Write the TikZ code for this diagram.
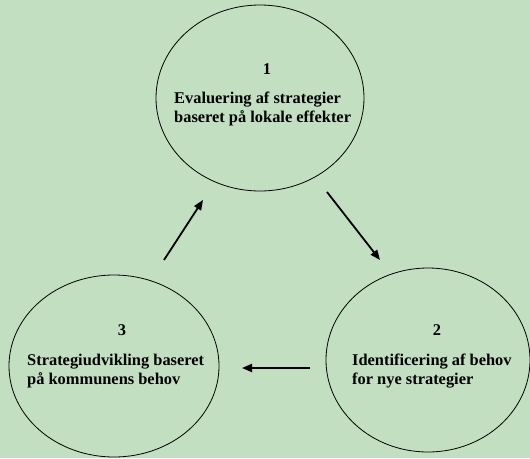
\documentclass[tikz,border=0pt]{standalone}
\usepackage{fontspec}
\setmainfont{Liberation Serif}
\usetikzlibrary{shapes.geometric,arrows.meta}
\definecolor{bg}{RGB}{194,223,194}
\tikzset{
  ell/.style={draw=black, line width=0.8pt, ellipse, inner sep=0pt},
  lbl/.style={inner sep=0pt, font=\fontsize{16.4}{19.5}\selectfont\bfseries, anchor=base west},
  num/.style={inner sep=0pt, font=\fontsize{16.4}{19.5}\selectfont\bfseries, anchor=base},
  arr/.style={line width=1.8pt, -{Triangle[length=10pt,width=8pt]}}
}
\begin{document}
\begin{tikzpicture}[x=1pt,y=-1pt]
\fill[bg] (0,0) rectangle (530,458);
\useasboundingbox (0,0) rectangle (530,458);
\node[ell, minimum width=208pt, minimum height=186pt] (e1) at (260,98) {};
\node[ell, minimum width=204pt, minimum height=184pt] (e2) at (428,360) {};
\node[ell, minimum width=210pt, minimum height=182pt] (e3) at (114,366) {};
\node[num] (n1) at (267,74) {1};
\node[lbl] (t1) at (174,103) {\begin{tabular}[t]{@{}l@{}}Evaluering af strategier\\ baseret på lokale effekter\end{tabular}};
\node[num] (n2) at (437,335) {2};
\node[lbl] (t2) at (352,365) {\begin{tabular}[t]{@{}l@{}}Identificering af behov\\ for nye strategier\end{tabular}};
\node[num] (n3) at (122,335) {3};
\node[lbl] (t3) at (27,365) {\begin{tabular}[t]{@{}l@{}}Strategiudvikling baseret\\ på kommunens behov\end{tabular}};
\coordinate (a1s) at (327,192);
\coordinate (a1e) at (380,260);
\coordinate (a2s) at (310,368);
\coordinate (a2e) at (242,368);
\coordinate (a3s) at (164,260);
\coordinate (a3e) at (203,200);
\draw[arr] (a1s) -- (a1e);
\draw[arr] (a2s) -- (a2e);
\draw[arr] (a3s) -- (a3e);
\end{tikzpicture}
\end{document}
